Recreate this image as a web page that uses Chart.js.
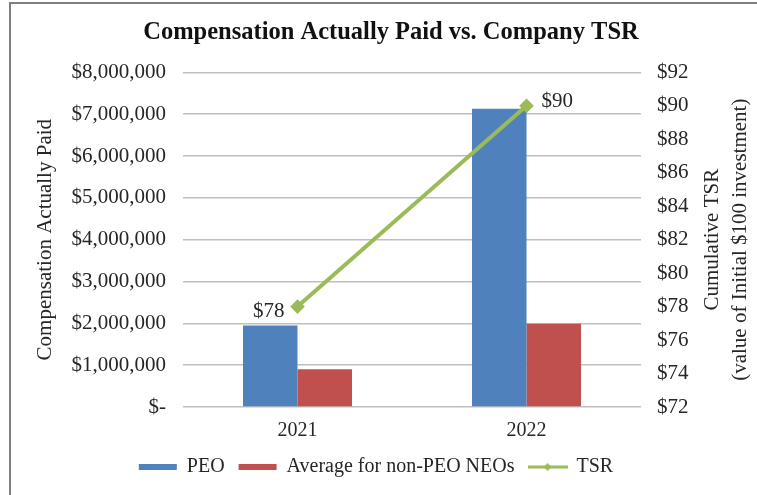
<!DOCTYPE html>
<html>
<head>
<meta charset="utf-8">
<script src="https://cdn.jsdelivr.net/npm/chart.js@4/dist/chart.umd.min.js"></script>
<style>
  html, body { margin: 0; padding: 0; background: #ffffff; }
  #wrap { position: relative; width: 757px; height: 495px; }
</style>
</head>
<body>
<div id="wrap"><canvas id="c" width="757" height="495"></canvas></div>
<script>
// ---- Data ----
const categories = ['2021', '2022'];
const peoValues = [1950000, 7130000];
const nonPeoValues = [900000, 1990000];
const tsrValues = [78, 90];
const leftTickMin = 0, leftTickMax = 8000000, leftTickStep = 1000000;
const rightTickMin = 72, rightTickMax = 92, rightTickStep = 2;
const chartTitle = 'Compensation Actually Paid vs. Company TSR';
const leftAxisTitle = 'Compensation Actually Paid';
const rightAxisTitleLines = ['Cumulative TSR', '(value of Initial $100 investment)'];
const seriesNames = ['PEO', 'Average for non-PEO NEOs', 'TSR'];

// ---- Styles ----
const FONT = "'Liberation Serif', 'Times New Roman', serif";
const BLUE = '#4F81BD', RED = '#C0504D', GREEN = '#9BBB59';
const TEXT = '#262626';

// legend icon for TSR (line with diamond)
const tsrIcon = document.createElement('canvas');
tsrIcon.width = 40; tsrIcon.height = 10;
(function () {
  const g = tsrIcon.getContext('2d');
  g.strokeStyle = GREEN; g.lineWidth = 3;
  g.beginPath(); g.moveTo(0, 5); g.lineTo(40, 5); g.stroke();
  g.fillStyle = GREEN;
  g.beginPath(); g.moveTo(20, 1); g.lineTo(24, 5); g.lineTo(20, 9); g.lineTo(16, 5); g.closePath(); g.fill();
})();

const frame = {
  id: 'frame',
  beforeDraw(chart) {
    const ctx = chart.ctx;
    ctx.save();
    ctx.strokeStyle = '#7f7f7f';
    ctx.lineWidth = 2;
    ctx.beginPath();
    ctx.moveTo(10, 495);
    ctx.lineTo(10, 3);
    ctx.lineTo(757, 3);
    ctx.stroke();
    ctx.restore();
  }
};

const legendShift = {
  id: 'legendShift',
  afterLayout(chart, args, opts) {
    if (chart.legend) {
      chart.legend.left += opts.dx;
      chart.legend.right += opts.dx;
    }
  }
};

const rightTitle = {
  id: 'rightTitle',
  afterDraw(chart, args, opts) {
    const ctx = chart.ctx;
    const s = chart.scales.y1;
    const cy = (s.top + s.bottom) / 2;
    ctx.save();
    ctx.fillStyle = TEXT;
    ctx.font = '21px ' + FONT;
    ctx.textAlign = 'center';
    ctx.textBaseline = 'middle';
    opts.lines.forEach((t, i) => {
      ctx.save();
      ctx.translate(opts.x[i], cy);
      ctx.rotate(-Math.PI / 2);
      ctx.fillText(t, 0, 0);
      ctx.restore();
    });
    ctx.restore();
  }
};

const pointLabels = {
  id: 'pointLabels',
  afterDatasetsDraw(chart, args, opts) {
    const ctx = chart.ctx;
    const meta = chart.getDatasetMeta(2);
    ctx.save();
    ctx.fillStyle = TEXT;
    ctx.font = '21px ' + FONT;
    ctx.textBaseline = 'middle';
    meta.data.forEach((pt, i) => {
      const o = opts.offsets[i];
      ctx.textAlign = o.align;
      ctx.fillText('$' + tsrValues[i], pt.x + o.dx, pt.y + o.dy);
    });
    ctx.restore();
  }
};

new Chart(document.getElementById('c'), {
  data: {
    labels: categories,
    datasets: [
      { type: 'bar', label: seriesNames[0], data: peoValues, backgroundColor: BLUE, yAxisID: 'y',
        categoryPercentage: 0.476, barPercentage: 1.0, borderWidth: 0 },
      { type: 'bar', label: seriesNames[1], data: nonPeoValues, backgroundColor: RED, yAxisID: 'y',
        categoryPercentage: 0.476, barPercentage: 1.0, borderWidth: 0 },
      { type: 'line', label: seriesNames[2], data: tsrValues, borderColor: GREEN, backgroundColor: GREEN,
        borderWidth: 4, pointStyle: 'rectRot', pointRadius: 4.5, pointBackgroundColor: GREEN,
        pointBorderColor: GREEN, yAxisID: 'y1', order: -1, tension: 0 }
    ]
  },
  options: {
    responsive: false,
    animation: false,
    devicePixelRatio: 1,
    layout: { padding: { top: 0, left: 25, right: 0, bottom: 8 } },
    scales: {
      x: {
        grid: { display: false, drawTicks: false },
        border: { display: false },
        ticks: { color: TEXT, font: { family: FONT, size: 20 }, padding: 12 },
        afterFit(s) { s.height = 36; }
      },
      y: {
        position: 'left',
        min: leftTickMin, max: leftTickMax,
        grid: { color: '#bfbfbf', lineWidth: 1.5, drawTicks: false },
        border: { display: false },
        ticks: {
          stepSize: leftTickStep, color: TEXT, font: { family: FONT, size: 21 }, padding: 17,
          callback: v => v === 0 ? '$-' : '$' + v.toLocaleString('en-US')
        },
        title: { display: true, text: leftAxisTitle, color: TEXT, font: { family: FONT, size: 21 },
                 padding: { top: 8, bottom: 0 } },
        afterFit(s) { s.width = 158; }
      },
      y1: {
        position: 'right',
        min: rightTickMin, max: rightTickMax,
        grid: { display: false, drawTicks: false },
        border: { display: false },
        ticks: { stepSize: rightTickStep, color: TEXT, font: { family: FONT, size: 21 }, padding: 16,
                 callback: v => '$' + v },
        afterFit(s) { s.width = 116; }
      }
    },
    plugins: {
      title: {
        display: true, text: chartTitle, color: '#111111',
        font: { family: FONT, size: 24.5, weight: 'bold' },
        padding: { top: 18, bottom: 25 }
      },
      legend: {
        position: 'bottom',
        labels: {
          color: TEXT, font: { family: FONT, size: 20 },
          usePointStyle: true, pointStyleWidth: 38, boxHeight: 6, boxWidth: 38, padding: 14,
          sort: (a, b) => a.datasetIndex - b.datasetIndex,
          generateLabels(chart) {
            const items = Chart.defaults.plugins.legend.labels.generateLabels(chart);
            items.forEach(it => {
              if (it.datasetIndex === 2) { it.pointStyle = tsrIcon; it.lineWidth = 0; }
              else { it.pointStyle = 'rect'; it.lineWidth = 0; it.strokeStyle = 'rgba(0,0,0,0)'; }
            });
            return items;
          }
        }
      },
      tooltip: { enabled: false },
      legendShift: { dx: -15 },
      rightTitle: { lines: rightAxisTitleLines, x: [712, 740] },
      pointLabels: { offsets: [ { align: 'right', dx: -13, dy: 5 }, { align: 'left', dx: 15, dy: -4 } ] }
    }
  },
  plugins: [frame, legendShift, rightTitle, pointLabels]
});
</script>
</body>
</html>
